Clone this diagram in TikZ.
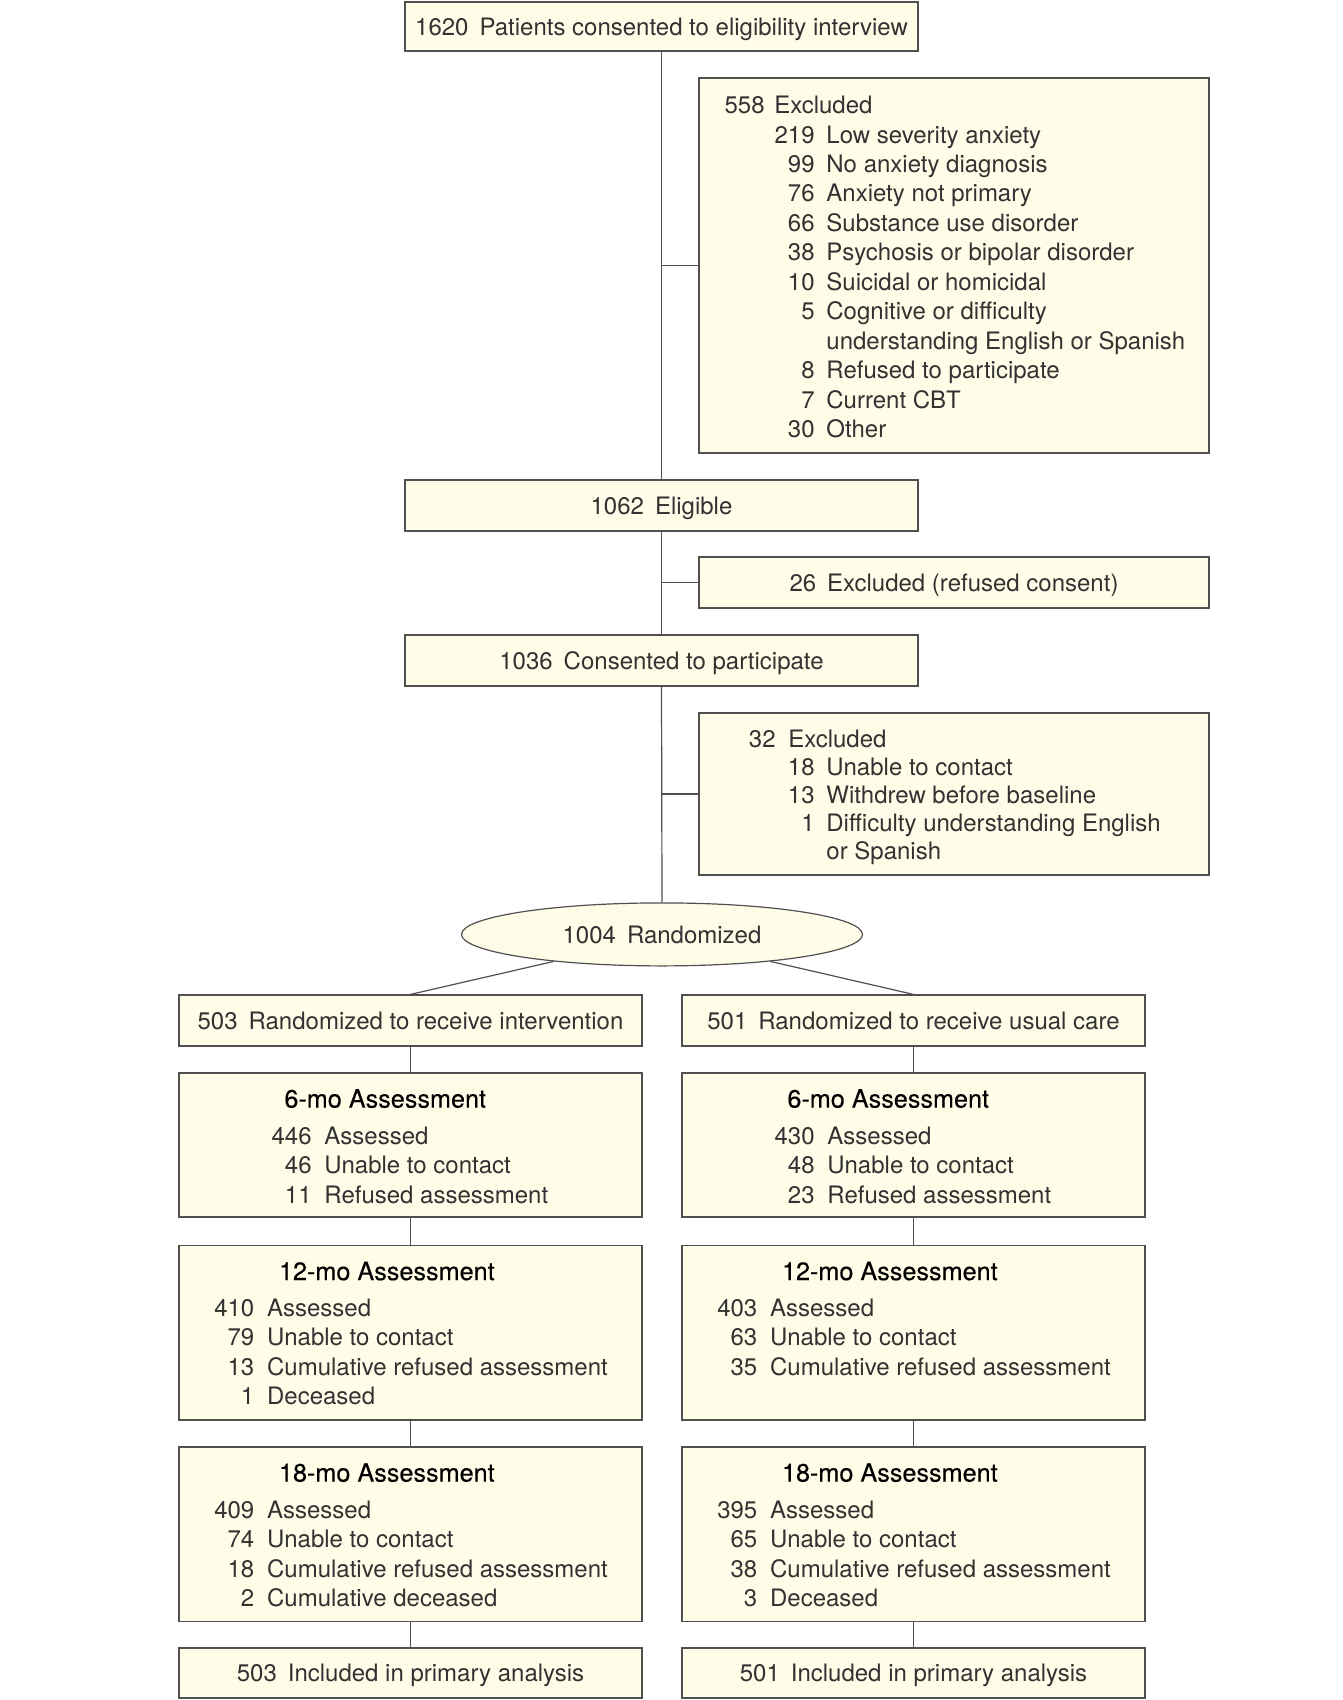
\documentclass[tikz,border=0pt]{standalone}
\usepackage{fontspec}
\setmainfont{TeX Gyre Heros}
\usetikzlibrary{shapes.geometric}
\definecolor{boxfill}{RGB}{255,253,232}
\definecolor{linegray}{RGB}{80,80,80}
\definecolor{txtgray}{RGB}{50,50,50}
\newcommand\ngap{\hspace{5.5pt}}
\begin{document}
\begin{tikzpicture}[x=0.5pt,y=-0.5pt,
  box/.style={draw=linegray, fill=boxfill, line width=0.6pt, inner sep=0pt, rectangle,
    font=\fontsize{12}{14.7}\selectfont, text=txtgray, text height=10.3pt, text depth=1.5pt},
  conn/.style={draw=linegray, line width=0.6pt},
  txt/.style={inner sep=0pt, font=\fontsize{12}{14.7}\selectfont, text=txtgray, yshift=-0.8pt},
  ttl/.style={inner sep=0pt, font=\fontsize{12.6}{14.7}\selectfont\addfontfeature{FakeBold=0.3}, text=black, yshift=-0.8pt},
  wide/.style={minimum width=256.5pt},
  col/.style={minimum width=231.5pt},
]
\useasboundingbox (0,0) rectangle (1342,1700);

% main column boxes
\node[box, wide, minimum height=24.5pt] (top) at (661.5,26.5) {1620\ngap Patients consented to eligibility interview};
\node[box, minimum width=255pt, minimum height=187.5pt] (ex1) at (954,265.5) {};
\node[box, wide, minimum height=25.5pt] (elig) at (661.5,505.5) {1062\ngap Eligible};
\node[box, minimum width=255pt, minimum height=25.5pt] (ex2) at (954,582.5) {26\ngap Excluded (refused consent)};
\node[box, wide, minimum height=25.5pt] (cons) at (661.5,660.5) {1036\ngap Consented to participate};
\node[box, minimum width=255pt, minimum height=81pt] (ex3) at (954,794) {};
\node[draw=linegray, fill=boxfill, line width=0.6pt, ellipse, inner sep=0pt,
  minimum width=200.5pt, minimum height=31.5pt, font=\fontsize{12}{14.7}\selectfont, text=txtgray,
  text height=10.3pt, text depth=1.5pt]
  (rand) at (662,934.4) {1004\ngap Randomized};

% excluded list 1
\node[txt, anchor=base east] (e1n0) at (765,112) {558};
\node[txt, anchor=base west] (e1t0) at (774,112) {Excluded};
\foreach \n/\t [count=\i] in {219/Low severity anxiety, 99/No anxiety diagnosis,
  76/Anxiety not primary, 66/Substance use disorder, 38/Psychosis or bipolar disorder,
  10/Suicidal or homicidal, 5/Cognitive or difficulty, /understanding English or Spanish,
  8/Refused to participate, 7/Current CBT, 30/Other} {
  \node[txt, anchor=base east] (e1n\i) at (815,{112+29.46*\i}) {\n};
  \node[txt, anchor=base west] (e1t\i) at (826,{112+29.46*\i}) {\t};
}

% excluded list 3
\node[txt, anchor=base east] (e3n0) at (776,746) {32};
\node[txt, anchor=base west] (e3t0) at (788,746) {Excluded};
\foreach \n/\t [count=\i] in {18/Unable to contact, 13/Withdrew before baseline,
  1/Difficulty understanding English, /or Spanish} {
  \node[txt, anchor=base east] (e3n\i) at (815,{746+27.9*\i}) {\n};
  \node[txt, anchor=base west] (e3t\i) at (826,{746+27.9*\i}) {\t};
}

% arm boxes
\node[box, col, minimum height=25.5pt] (Lr) at (410.5,1020.5) {503\ngap Randomized to receive intervention};
\node[box, col, minimum height=25.5pt] (Rr) at (913.5,1020.5) {501\ngap Randomized to receive usual care};
\node[box, col, minimum height=72pt] (L6) at (410.5,1145) {};
\node[box, col, minimum height=72pt] (R6) at (913.5,1145) {};
\node[box, col, minimum height=87.25pt] (L12) at (410.5,1332.75) {};
\node[box, col, minimum height=87.25pt] (R12) at (913.5,1332.75) {};
\node[box, col, minimum height=87.3pt] (L18) at (410.5,1534.3) {};
\node[box, col, minimum height=87.3pt] (R18) at (913.5,1534.3) {};
\node[box, col, minimum height=25pt] (Li) at (410.5,1673) {503\ngap Included in primary analysis};
\node[box, col, minimum height=25pt] (Ri) at (913.5,1673) {501\ngap Included in primary analysis};

% 6-mo
\node[ttl, anchor=base west] (L6h) at (284,1106) {6-mo Assessment};
\foreach \n/\t [count=\i] in {446/Assessed, 46/Unable to contact, 11/Refused assessment} {
  \node[txt, anchor=base east] (L6n\i) at (312,{1143+29.25*(\i-1)}) {\n};
  \node[txt, anchor=base west] (L6t\i) at (324,{1143+29.25*(\i-1)}) {\t};
}
\node[ttl, anchor=base west] (R6h) at (787,1106) {6-mo Assessment};
\foreach \n/\t [count=\i] in {430/Assessed, 48/Unable to contact, 23/Refused assessment} {
  \node[txt, anchor=base east] (R6n\i) at (815,{1143+29.25*(\i-1)}) {\n};
  \node[txt, anchor=base west] (R6t\i) at (827,{1143+29.25*(\i-1)}) {\t};
}

% 12-mo
\node[ttl, anchor=base west] (L12h) at (278.6,1278.5) {12-mo Assessment};
\foreach \n/\t [count=\i] in {410/Assessed, 79/Unable to contact, 13/Cumulative refused assessment, 1/Deceased} {
  \node[txt, anchor=base east] (L12n\i) at (254.7,{1315+29.33*(\i-1)}) {\n};
  \node[txt, anchor=base west] (L12t\i) at (266.7,{1315+29.33*(\i-1)}) {\t};
}
\node[ttl, anchor=base west] (R12h) at (781.6,1278.5) {12-mo Assessment};
\foreach \n/\t [count=\i] in {403/Assessed, 63/Unable to contact, 35/Cumulative refused assessment} {
  \node[txt, anchor=base east] (R12n\i) at (757.7,{1315+29.33*(\i-1)}) {\n};
  \node[txt, anchor=base west] (R12t\i) at (769.7,{1315+29.33*(\i-1)}) {\t};
}

% 18-mo
\node[ttl, anchor=base west] (L18h) at (278.6,1480) {18-mo Assessment};
\foreach \n/\t [count=\i] in {409/Assessed, 74/Unable to contact, 18/Cumulative refused assessment, 2/Cumulative deceased} {
  \node[txt, anchor=base east] (L18n\i) at (254.7,{1517+29.23*(\i-1)}) {\n};
  \node[txt, anchor=base west] (L18t\i) at (266.7,{1517+29.23*(\i-1)}) {\t};
}
\node[ttl, anchor=base west] (R18h) at (781.6,1480) {18-mo Assessment};
\foreach \n/\t [count=\i] in {395/Assessed, 65/Unable to contact, 38/Cumulative refused assessment, 3/Deceased} {
  \node[txt, anchor=base east] (R18n\i) at (757.7,{1517+29.23*(\i-1)}) {\n};
  \node[txt, anchor=base west] (R18t\i) at (769.7,{1517+29.23*(\i-1)}) {\t};
}

% connectors
\draw[conn] (top.south) -- (elig.north);
\draw[conn] (elig.south) -- (cons.north);
\draw[conn] (cons.south) -- (rand.north);
\draw[conn] (top.south |- ex1.west) -- (ex1.west);
\draw[conn] (elig.south |- ex2.west) -- (ex2.west);
\draw[conn] (cons.south |- ex3.west) -- (ex3.west);
\draw[conn] (rand.194) -- (Lr.north);
\draw[conn] (rand.346) -- (Rr.north);
\draw[conn] (Lr.south) -- (L6.north);
\draw[conn] (L6.south) -- (L12.north);
\draw[conn] (L12.south) -- (L18.north);
\draw[conn] (L18.south) -- (Li.north);
\draw[conn] (Rr.south) -- (R6.north);
\draw[conn] (R6.south) -- (R12.north);
\draw[conn] (R12.south) -- (R18.north);
\draw[conn] (R18.south) -- (Ri.north);
\end{tikzpicture}
\end{document}
